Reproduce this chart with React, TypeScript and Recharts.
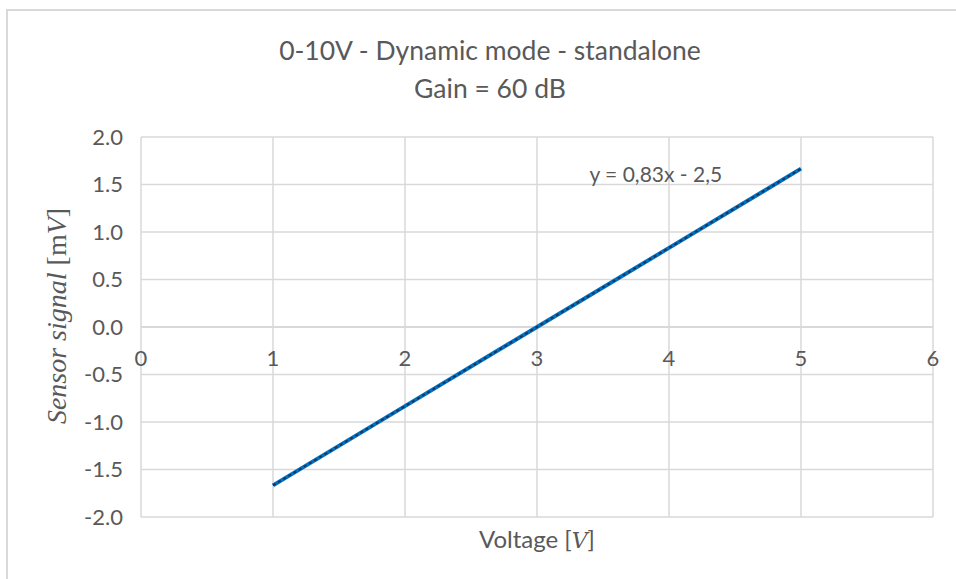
import {
  LineChart,
  Line,
  XAxis,
  YAxis,
  CartesianGrid,
  ReferenceLine,
  ReferenceDot,
  Label,
} from "recharts";

const voltage = [1, 2, 3, 4, 5];
const sensorSignal = [-1.667, -0.833, 0, 0.833, 1.667];
const trendSignal = [-1.667, -0.833, 0, 0.833, 1.667];
const xTicks = [0, 1, 2, 3, 4, 5, 6];
const yTicks = [-2, -1.5, -1, -0.5, 0, 0.5, 1, 1.5, 2];

const titleLines = ["0-10V - Dynamic mode - standalone", "Gain = 60 dB"];
const trendLabel = "y = 0,83x - 2,5";

const data = voltage.map((v, i) => ({
  voltage: v,
  signal: sensorSignal[i],
  trend: trendSignal[i],
}));

const W = 956;
const H = 579;
const PLOT_TOP = 137;
const PLOT_H = 380;
const ZERO_Y = PLOT_TOP + PLOT_H / 2;
const FONT = "Lato, 'Open Sans', sans-serif";
const TEXT = "#595959";
const GRID = "#D9D9D9";

function XTick(props: any) {
  const { x, payload } = props;
  return (
    <text x={x} y={ZERO_Y + 39} textAnchor="middle" fill={TEXT} fontSize={22} fontFamily={FONT}>
      {payload.value}
    </text>
  );
}

export default function App() {
  return (
    <div style={{ position: "absolute", left: 0, top: 0, width: W, height: H, background: "#fff", overflow: "hidden" }}>
      <div
        style={{
          position: "absolute",
          left: 6,
          top: 9,
          width: W,
          height: H,
          border: `2px solid ${GRID}`,
        }}
      />
      <div
        style={{
          position: "absolute",
          left: 0,
          top: 31,
          width: 980,
          textAlign: "center",
          fontFamily: FONT,
          fontSize: 26.5,
          color: TEXT,
          lineHeight: "38px",
        }}
      >
        {titleLines.map((t) => (
          <div key={t}>{t}</div>
        ))}
      </div>
      <LineChart
        width={W}
        height={H}
        data={data}
        margin={{ top: PLOT_TOP, right: 23, bottom: 32, left: 20 }}
        style={{ position: "absolute", left: 0, top: 0 }}
      >
        <CartesianGrid stroke={GRID} strokeWidth={1.5} />
        <XAxis
          dataKey="voltage"
          type="number"
          domain={[0, 6]}
          ticks={xTicks}
          height={30}
          axisLine={false}
          tickLine={false}
          tick={<XTick />}
        >
          <Label
            content={() => (
              <text x={537} y={548} textAnchor="middle" fill={TEXT} fontSize={24} fontFamily={FONT}>
                Voltage [
                <tspan fontFamily="'DejaVu Serif', serif" fontStyle="italic" fontSize={22}>
                  V
                </tspan>
                ]
              </text>
            )}
          />
        </XAxis>
        <YAxis
          type="number"
          domain={[-2, 2]}
          ticks={yTicks}
          width={121}
          axisLine={false}
          tickLine={false}
          tickMargin={12}
          tickFormatter={(v: number) => v.toFixed(1)}
          tick={{ fontSize: 22, fill: TEXT, fontFamily: FONT }}
        >
          <Label
            content={() => (
              <text
                x={60}
                y={316}
                transform="rotate(-90, 60, 316)"
                textAnchor="middle"
                dominantBaseline="middle"
                fill={TEXT}
                fontSize={28}
                fontFamily="'Liberation Serif', serif"
              >
                <tspan fontStyle="italic">Sensor signal </tspan>
                <tspan>[m</tspan>
                <tspan fontStyle="italic">V</tspan>
                <tspan>]</tspan>
              </text>
            )}
          />
        </YAxis>
        <ReferenceLine y={0} stroke={GRID} strokeWidth={2} />
        <Line
          dataKey="signal"
          stroke="#0070C0"
          strokeWidth={4}
          dot={false}
          isAnimationActive={false}
        />
        <Line
          dataKey="trend"
          stroke="#1F3050"
          strokeWidth={1.8}
          strokeDasharray="3 3"
          dot={false}
          isAnimationActive={false}
        />
        <ReferenceDot
          x={3.9}
          y={1.61}
          r={0}
          fill="none"
          stroke="none"
          label={{ value: trendLabel, position: "center", fill: TEXT, fontSize: 21, fontFamily: FONT }}
        />
      </LineChart>
    </div>
  );
}
